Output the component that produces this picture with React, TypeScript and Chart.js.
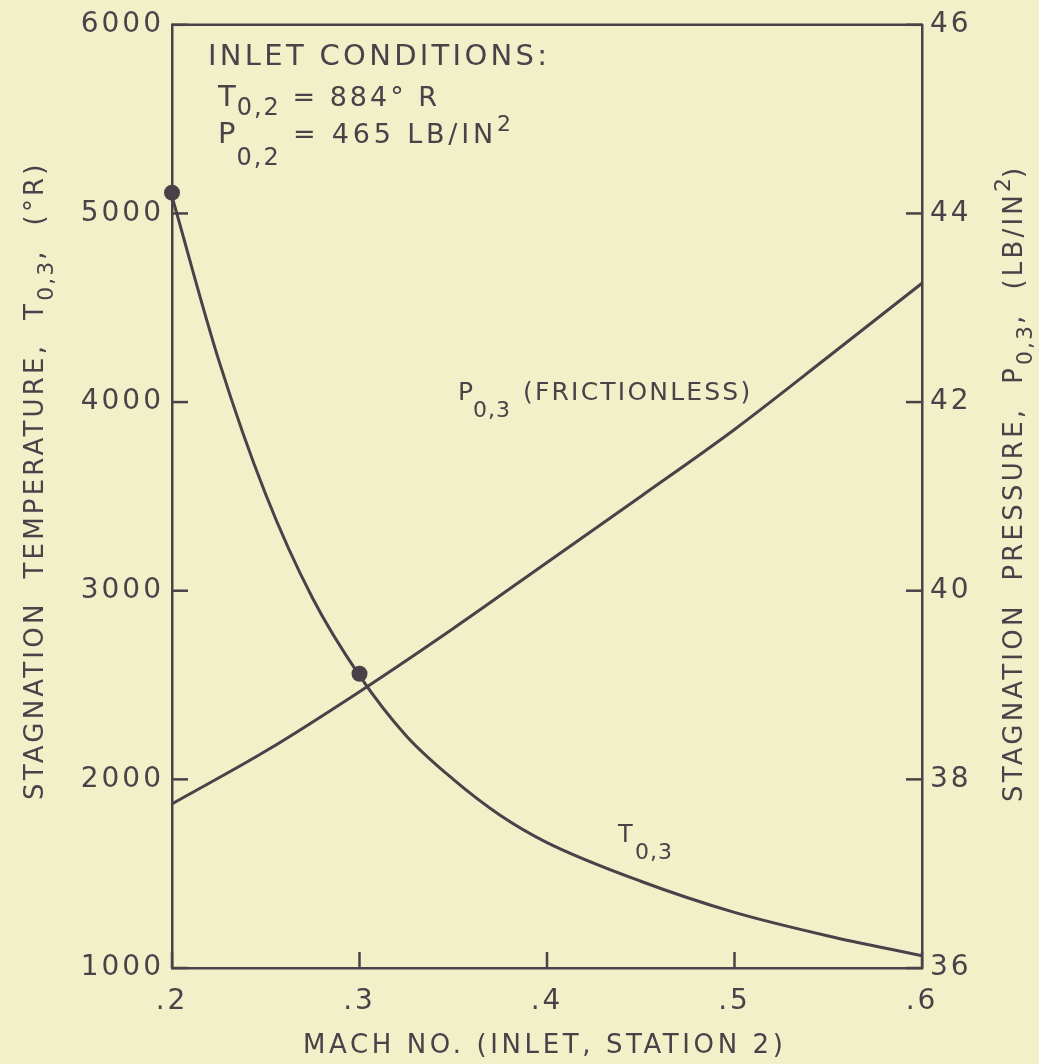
import React, { useEffect, useRef } from 'react';
import { Chart, registerables } from 'chart.js';

Chart.register(...registerables);

// ---- data ----
const machTicks = [0.2, 0.3, 0.4, 0.5, 0.6];
const tempTicks = [1000, 2000, 3000, 4000, 5000, 6000];
const pressTicks = [36, 38, 40, 42, 44, 46];

const machT = [0.2, 0.225, 0.25, 0.275, 0.3, 0.325, 0.35, 0.375, 0.4, 0.45, 0.5, 0.55, 0.6];
const tempT = [5090, 4220, 3510, 2960, 2550, 2230, 2000, 1810, 1665, 1460, 1295, 1170, 1065];

const machP = [0.2, 0.25, 0.3, 0.35, 0.4, 0.45, 0.5, 0.55, 0.6];
const pressP = [37.74, 38.3, 38.93, 39.6, 40.3, 41.0, 41.71, 42.48, 43.26];

const markerMach = [0.2, 0.3];
const markerTemp = [5110, 2560];

const INK = '#4a4248';
const BG = '#f0f0c9';
const FONT = '"DejaVu Sans", sans-serif';

type Seg = { t: string; size: number; dy?: number; ls?: number };

function drawRich(ctx: CanvasRenderingContext2D, segs: Seg[], x: number, y: number, rot = 0) {
  ctx.save();
  ctx.translate(x, y);
  ctx.rotate(rot);
  ctx.fillStyle = INK;
  ctx.textBaseline = 'alphabetic';
  ctx.textAlign = 'left';
  let cx = 0;
  for (const s of segs) {
    ctx.font = `${s.size}px ${FONT}`;
    (ctx as any).letterSpacing = `${s.ls ?? 0}px`;
    ctx.fillText(s.t, cx, s.dy ?? 0);
    cx += ctx.measureText(s.t).width;
  }
  ctx.restore();
}

const tickSpacing = {
  id: 'tickSpacing',
  beforeDraw(chart: any) {
    (chart.ctx as any).letterSpacing = '3px';
  },
};

const decor = {
  id: 'decor',
  afterDraw(chart: any) {
    const ctx: CanvasRenderingContext2D = chart.ctx;
    const { left, right, top, bottom } = chart.chartArea;
    const sx = chart.scales.x;
    const sy = chart.scales.y;
    const sy2 = chart.scales.y2;
    ctx.save();
    ctx.strokeStyle = INK;
    ctx.lineWidth = 2.5;
    ctx.lineCap = 'butt';
    // top frame line
    ctx.beginPath();
    ctx.moveTo(left - 1, top);
    ctx.lineTo(right + 1, top);
    ctx.stroke();
    const TL = 16;
    // inward tick marks
    for (const v of machTicks) {
      const px = sx.getPixelForValue(v);
      ctx.beginPath();
      ctx.moveTo(px, bottom);
      ctx.lineTo(px, bottom - TL);
      ctx.stroke();
    }
    for (const v of tempTicks) {
      const py = sy.getPixelForValue(v);
      ctx.beginPath();
      ctx.moveTo(left, py);
      ctx.lineTo(left + TL, py);
      ctx.stroke();
    }
    for (const v of pressTicks) {
      const py = sy2.getPixelForValue(v);
      ctx.beginPath();
      ctx.moveTo(right, py);
      ctx.lineTo(right - TL, py);
      ctx.stroke();
    }
    ctx.restore();

    // inlet conditions note
    drawRich(ctx, [{ t: 'INLET CONDITIONS:', size: 29, ls: 3.3 }], 208, 65);
    drawRich(ctx, [
      { t: 'T', size: 29, ls: 1 },
      { t: '0,2', size: 24, dy: 9, ls: 2 },
      { t: ' = 884° R', size: 27, ls: 3 },
    ], 218, 106);
    drawRich(ctx, [
      { t: 'P', size: 29, ls: 1 },
      { t: '0,2', size: 24, dy: 22, ls: 2 },
      { t: ' = 465 LB/IN', size: 27, ls: 3.8 },
      { t: '2', size: 22, dy: -12, ls: 0 },
    ], 218, 143);

    // curve labels
    drawRich(ctx, [{ t: 'P', size: 25, ls: 0 }], 458, 400);
    drawRich(ctx, [{ t: '0,3', size: 22, ls: 1 }], 473, 417);
    drawRich(ctx, [{ t: '(FRICTIONLESS)', size: 25, ls: 2.2 }], 523, 400);
    drawRich(ctx, [{ t: 'T', size: 24, ls: 0 }], 618, 842);
    drawRich(ctx, [{ t: '0,3', size: 22, ls: 1 }], 635, 859);

    // axis titles
    drawRich(ctx, [{ t: 'MACH NO. (INLET, STATION 2)', size: 26, ls: 3.6 }], 303, 1053);
    drawRich(ctx, [
      { t: 'STAGNATION  TEMPERATURE,  T', size: 26, ls: 3.2 },
      { t: '0,3', size: 22, dy: 10, ls: 2 },
      { t: ',  (°R)', size: 26, ls: 3.2 },
    ], 43, 800, -Math.PI / 2);
    drawRich(ctx, [
      { t: 'STAGNATION  PRESSURE,  P', size: 26, ls: 3.2 },
      { t: '0,3', size: 22, dy: 10, ls: 2 },
      { t: ',  (LB/IN', size: 26, ls: 3.2 },
      { t: '2', size: 22, dy: -12, ls: 0 },
      { t: ')', size: 26, ls: 0 },
    ], 1022, 802, -Math.PI / 2);
  },
};

export default function App() {
  const ref = useRef<HTMLCanvasElement | null>(null);

  useEffect(() => {
    if (!ref.current) return;
    const tickFont = { family: FONT, size: 28 };
    const chart = new Chart(ref.current, {
      type: 'line',
      data: {
        datasets: [
          {
            label: 'T0,3',
            data: machT.map((m, i) => ({ x: m, y: tempT[i] })),
            yAxisID: 'y',
            borderColor: INK,
            borderWidth: 3,
            pointRadius: 0,
            cubicInterpolationMode: 'monotone',
            fill: false,
          },
          {
            label: 'P0,3 (frictionless)',
            data: machP.map((m, i) => ({ x: m, y: pressP[i] })),
            yAxisID: 'y2',
            borderColor: INK,
            borderWidth: 3,
            pointRadius: 0,
            cubicInterpolationMode: 'monotone',
            fill: false,
          },
          {
            label: 'points',
            data: markerMach.map((m, i) => ({ x: m, y: markerTemp[i] })),
            yAxisID: 'y',
            showLine: false,
            pointRadius: 8,
            pointBackgroundColor: INK,
            pointBorderColor: INK,
            pointBorderWidth: 0,
            clip: false as any,
          },
        ],
      },
      options: {
        animation: false,
        responsive: false,
        events: [],
        layout: { padding: { top: 23, left: 0, right: 0, bottom: 0 } },
        plugins: { legend: { display: false }, tooltip: { enabled: false } },
        scales: {
          x: {
            type: 'linear',
            min: 0.2,
            max: 0.6,
            afterBuildTicks: (s: any) => { s.ticks = machTicks.map((v) => ({ value: v })); },
            afterFit: (s: any) => { s.height = 96; },
            grid: { display: false, drawTicks: false },
            border: { display: true, color: INK, width: 2.5 },
            ticks: {
              color: INK,
              font: tickFont,
              padding: 17,
              maxRotation: 0,
              autoSkip: false,
              callback: (v: any) => '.' + Math.round(Number(v) * 10),
            },
          },
          y: {
            type: 'linear',
            position: 'left',
            min: 1000,
            max: 6000,
            afterBuildTicks: (s: any) => { s.ticks = tempTicks.map((v) => ({ value: v })); },
            afterFit: (s: any) => { s.width = 172; },
            grid: { display: false, drawTicks: false },
            border: { display: true, color: INK, width: 2.5 },
            ticks: { color: INK, font: tickFont, padding: 8, autoSkip: false, callback: (v: any) => String(v) },
          },
          y2: {
            type: 'linear',
            position: 'right',
            min: 36,
            max: 46,
            afterBuildTicks: (s: any) => { s.ticks = pressTicks.map((v) => ({ value: v })); },
            afterFit: (s: any) => { s.width = 117; },
            grid: { display: false, drawTicks: false },
            border: { display: true, color: INK, width: 2.5 },
            ticks: { color: INK, font: tickFont, padding: 8, autoSkip: false, callback: (v: any) => String(v) },
          },
        },
      } as any,
      plugins: [tickSpacing, decor],
    });
    return () => chart.destroy();
  }, []);

  return (
    <div style={{ position: 'fixed', left: 0, top: 0, width: 1039, height: 1064, background: BG }}>
      <canvas ref={ref} width={1039} height={1064} style={{ display: 'block', width: 1039, height: 1064 }} />
    </div>
  );
}
